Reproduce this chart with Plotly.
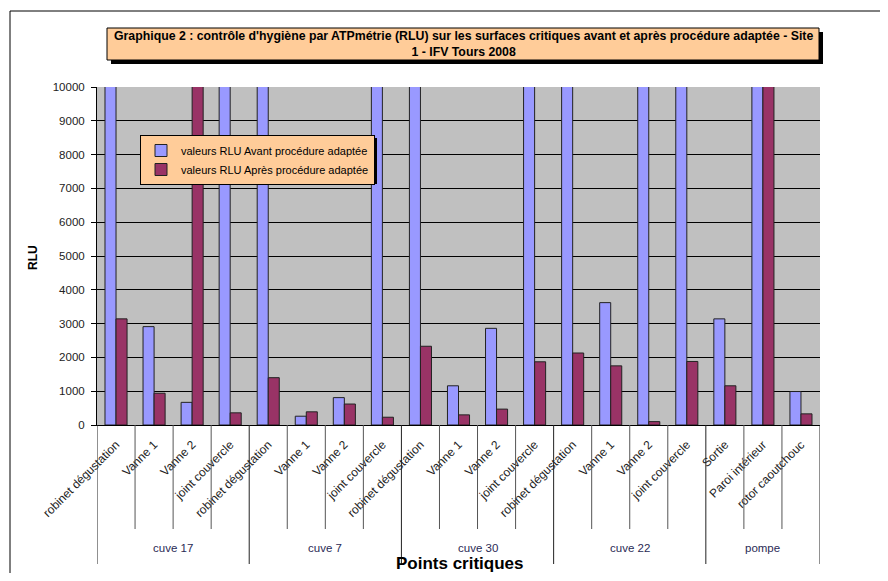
import plotly.graph_objects as go

# ---------------- data ----------------
groups = ["cuve 17", "cuve 7", "cuve 30", "cuve 22", "pompe"]
group_sizes = [4, 4, 4, 4, 3]
points = [
    "robinet dégustation", "Vanne 1", "Vanne 2", "joint couvercle",
    "robinet dégustation", "Vanne 1", "Vanne 2", "joint couvercle",
    "robinet dégustation", "Vanne 1", "Vanne 2", "joint couvercle",
    "robinet dégustation", "Vanne 1", "Vanne 2", "joint couvercle",
    "Sortie", "Paroi intérieur", "rotor caoutchouc",
]
# values above 10000 run off the top of the chart in the reference
avant = [15000, 2910, 670, 15000,
         15000, 260, 810, 15000,
         15000, 1160, 2860, 15000,
         15000, 3620, 15000, 15000,
         3140, 15000, 990]
apres = [3140, 940, 15000, 360,
         1400, 390, 620, 230,
         2330, 300, 470, 1870,
         2130, 1750, 100, 1880,
         1160, 15000, 330]
series_names = ["valeurs RLU Avant procédure adaptée",
                "valeurs RLU Après procédure adaptée"]
y_max = 10000
y_step = 1000

# ---------------- layout helpers (page pixel coordinates) ----------------
OFF = 8                      # browser body margin
W, H = 872, 565              # figure size
L, R, T, B = 97, 820, 87, 425  # plot area in page pixels


def px(xp):
    return (xp - L) / (R - L)


def py(yp):
    return (B - yp) / (B - T)


xs = list(range(len(points)))
FONT = "Liberation Sans, Arial, sans-serif"

fig = go.Figure()
fig.add_trace(go.Bar(x=xs, y=avant, name=series_names[0],
                     marker=dict(color="#9999FF", line=dict(color="#222222", width=1))))
fig.add_trace(go.Bar(x=xs, y=apres, name=series_names[1],
                     marker=dict(color="#993366", line=dict(color="#222222", width=1))))

shapes = []
# outer chart border (left and top)
shapes.append(dict(type="line", xref="paper", yref="paper", x0=px(10), x1=px(10),
                   y0=py(11), y1=py(H + OFF + 5), line=dict(color="black", width=1)))
shapes.append(dict(type="line", xref="paper", yref="paper", x0=px(10), x1=px(W + OFF + 5),
                   y0=py(11), y1=py(11), line=dict(color="black", width=1)))

# category / group divider lines below the x axis
boundaries_group = [-0.5]
acc = -0.5
for s in group_sizes:
    acc += s
    boundaries_group.append(acc)
for i in range(len(points) + 1):
    b = i - 0.5
    is_group = any(abs(b - g) < 1e-9 for g in boundaries_group)
    shapes.append(dict(type="line", xref="x", yref="paper", x0=b, x1=b,
                       y0=0, y1=py(564) if is_group else py(529),
                       line=dict(color="#222222" if is_group else "#555555", width=1)))

# title box with shadow
shapes.append(dict(type="rect", xref="paper", yref="paper", x0=px(111), x1=px(823),
                   y0=py(32), y1=py(64), fillcolor="black", line=dict(width=0)))
shapes.append(dict(type="rect", xref="paper", yref="paper", x0=px(107), x1=px(819),
                   y0=py(28), y1=py(60), fillcolor="#FFCC99", line=dict(color="black", width=1)))
# legend shadow
shapes.append(dict(type="rect", xref="paper", yref="paper", x0=px(143), x1=px(377),
                   y0=py(138), y1=py(184), fillcolor="black", line=dict(width=0)))

annotations = []
annotations.append(dict(
    xref="paper", yref="paper", x=px(463), y=py(44), xanchor="center", yanchor="middle",
    showarrow=False, align="center",
    text="<b>Graphique 2 : contrôle d'hygiène par ATPmétrie (RLU) sur les surfaces critiques avant et après procédure adaptée - Site<br>1 - IFV Tours 2008</b>",
    font=dict(family=FONT, size=12.3, color="black")))
annotations.append(dict(
    xref="paper", yref="paper", x=px(33), y=py(258), textangle=-90,
    xanchor="center", yanchor="middle", showarrow=False,
    text="<b>RLU</b>", font=dict(family=FONT, size=12, color="black")))
annotations.append(dict(
    xref="paper", yref="paper", x=px(460), y=py(563), xanchor="center", yanchor="middle",
    showarrow=False, text="<b>Points critiques</b>",
    font=dict(family=FONT, size=17, color="black")))
start = 0
for g, s in zip(groups, group_sizes):
    annotations.append(dict(
        xref="x", yref="paper", x=start + (s - 1) / 2, y=py(548),
        xanchor="center", yanchor="middle", showarrow=False, text=g,
        font=dict(family=FONT, size=11.5, color="#2a2a55")))
    start += s

fig.update_layout(
    width=W, height=H,
    margin=dict(l=L - OFF, r=W - (R - OFF), t=T - OFF, b=H - (B - OFF), autoexpand=False),
    paper_bgcolor="white", plot_bgcolor="#C0C0C0",
    barmode="group", bargap=0.42, bargroupgap=0,
    font=dict(family=FONT, size=11, color="black"),
    showlegend=True,
    legend=dict(x=px(140), y=py(135), xanchor="left", yanchor="top",
                bgcolor="#FFCC99", bordercolor="black", borderwidth=1,
                font=dict(family=FONT, size=11, color="black"),
                itemwidth=30, tracegroupgap=0),
    shapes=shapes, annotations=annotations,
    xaxis=dict(range=[-0.5, len(points) - 0.5], tickmode="array", tickvals=xs,
               ticktext=points, tickangle=-45, showgrid=False, zeroline=False,
               showline=True, linecolor="black", linewidth=1, ticks="",
               ticklabelstandoff=7,
               tickfont=dict(family=FONT, size=12, color="#222222")),
    yaxis=dict(range=[0, y_max], dtick=y_step, tick0=0, tickformat="d",
               showgrid=True, gridcolor="black", gridwidth=1, zeroline=False,
               showline=True, linecolor="black", linewidth=1, ticks="outside",
               ticklen=5, tickcolor="black", ticklabelstandoff=4,
               tickfont=dict(family=FONT, size=11.5, color="#222222")),
)

fig.write_html("out.html")
